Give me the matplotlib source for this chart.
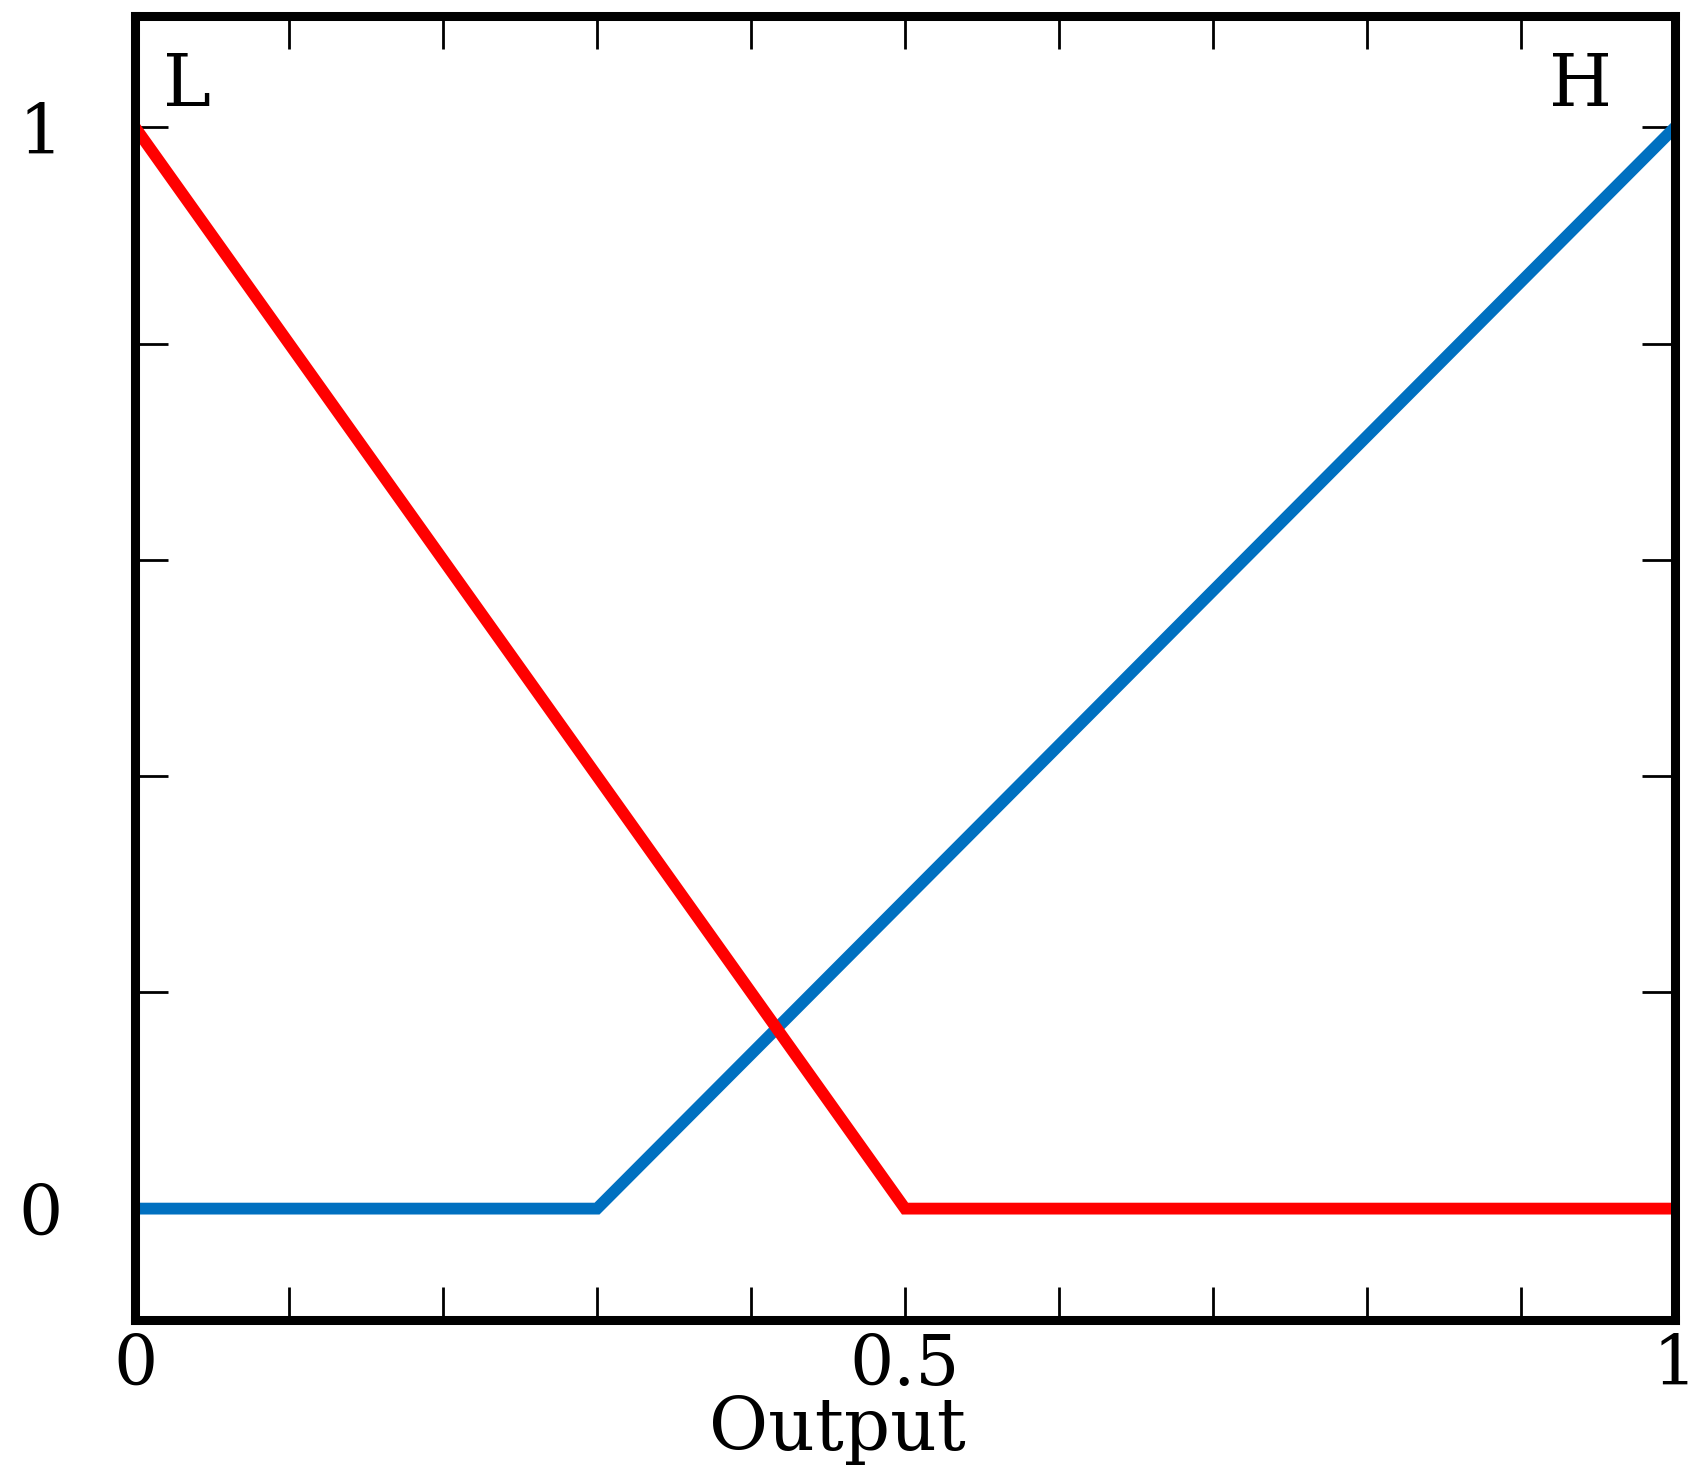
import numpy as np
import matplotlib
matplotlib.use("Agg")
import matplotlib.pyplot as plt
from matplotlib.ticker import MultipleLocator, FixedLocator

# membership functions (piecewise linear)
low_x = [0.0, 0.5, 1.0]
low_y = [1.0, 0.0, 0.0]
high_x = [0.0, 0.3, 1.0]
high_y = [0.0, 0.0, 1.0]

xtick_vals = [0, 0.5, 1]
xtick_labels = ["0", "0.5", "1"]
ytick_vals = [0, 1]
ytick_labels = ["0", "1"]

plt.rcParams['font.family'] = ['DejaVu Serif']
fs = 50

fig = plt.figure(figsize=(17.01, 14.76), dpi=100)
ax = fig.add_axes([0.0794, 0.1057, 0.9053, 0.8835])

ax.plot(high_x, high_y, color='#0070C0', lw=8.5, solid_joinstyle='miter', zorder=3)
ax.plot(low_x, low_y, color='#FF0000', lw=8.5, solid_joinstyle='miter', zorder=3)

ax.set_xlim(0, 1)
ax.set_ylim(-0.103, 1.103)

ax.xaxis.set_major_locator(FixedLocator(xtick_vals))
ax.set_xticklabels(xtick_labels)
ax.xaxis.set_minor_locator(MultipleLocator(0.1))
ax.yaxis.set_major_locator(FixedLocator(ytick_vals))
ax.set_yticklabels(ytick_labels)
ax.yaxis.set_minor_locator(MultipleLocator(0.2))

for which in ('major', 'minor'):
    ax.tick_params(axis='both', which=which, direction='in', top=True, right=True,
                   length=24, width=2)
ax.tick_params(axis='x', which='major', labelsize=fs, pad=9)
ax.tick_params(axis='y', which='major', labelsize=fs, pad=52)

for sp in ax.spines.values():
    sp.set_linewidth(6.5)
    sp.set_zorder(4)

ax.text(0.018, 1.02, "L", fontsize=fs + 2, ha='left', va='baseline')
ax.text(0.918, 1.02, "H", fontsize=fs + 2, ha='left', va='baseline')

ax.set_xlabel("Output", fontsize=fs + 2)
ax.xaxis.set_label_coords(0.456, -0.057)

fig.savefig("out.png", dpi=100)
